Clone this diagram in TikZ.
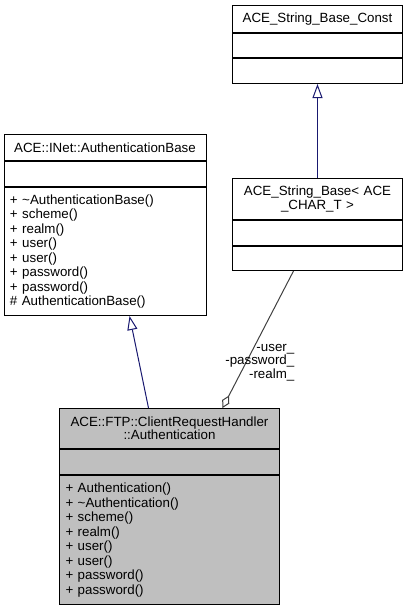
\documentclass[tikz,border=0pt]{standalone}
\usepackage{fontspec}
\setmainfont{Liberation Sans}
\usetikzlibrary{positioning,arrows.meta}
\definecolor{edgeblue}{HTML}{191970}
\definecolor{edgegray}{HTML}{404040}
\definecolor{classgray}{HTML}{BFBFBF}
\tikzset{
  classpart/.style={draw=black, line width=0.75pt, fill=white, inner xsep=4.5pt,
    inner ysep=0pt, text width=#1, align=center, font=\fontsize{10}{10}\selectfont},
  classops/.style={classpart=#1, align=left, font=\fontsize{10}{10.9}\selectfont},
  inherit/.style={edgeblue, line width=0.75pt,
    -{Triangle[open, length=10.5pt, width=7.5pt, fill=white]}},
  aggregate/.style={edgegray, line width=0.75pt,
    {Diamond[open, length=10.5pt, width=6pt, fill=white]}-}
}
\begin{document}
\begin{tikzpicture}[x=0.75pt, y=-0.75pt]
  \useasboundingbox (0,0) rectangle (408,608);

  % ACE_String_Base_Const
  \node[classpart=118.5pt, minimum height=20.25pt, anchor=north west] (strconst) at (232,5) {ACE\_String\_Base\_Const};
  \node[classpart=118.5pt, minimum height=18pt, below=0pt of strconst] (strconstattr) {};
  \node[classpart=118.5pt, minimum height=18.75pt, below=0pt of strconstattr] (strconstops) {};

  % ACE_String_Base< ACE_CHAR_T >
  \node[classpart=118.5pt, minimum height=30.75pt, anchor=north west] (strbase) at (232,178) {ACE\_String\_Base< ACE\\\_CHAR\_T >};
  \node[classpart=118.5pt, minimum height=18.75pt, below=0pt of strbase] (strbaseattr) {};
  \node[classpart=118.5pt, minimum height=18pt, below=0pt of strbaseattr] (strbaseops) {};

  % ACE::INet::AuthenticationBase
  \node[classpart=142.5pt, minimum height=19.5pt, anchor=north west] (authbase) at (3.5,134) {ACE::INet::AuthenticationBase};
  \node[classpart=142.5pt, minimum height=18.75pt, below=0pt of authbase] (authbaseattr) {};
  \node[classops=142.5pt, minimum height=96pt, below=0pt of authbaseattr] (authbaseops) {+ \textasciitilde AuthenticationBase()\\+ scheme()\\+ realm()\\+ user()\\+ user()\\+ password()\\+ password()\\\# AuthenticationBase()};

  % ACE::FTP::ClientRequestHandler::Authentication
  \node[classpart=156pt, fill=classgray, minimum height=30pt, anchor=north west] (auth) at (59,408) {ACE::FTP::ClientRequestHandler\\::Authentication};
  \node[classpart=156pt, fill=classgray, minimum height=18.75pt, below=0pt of auth] (authattr) {};
  \node[classops=156pt, fill=classgray, minimum height=96.75pt, below=0pt of authattr] (authops) {+ Authentication()\\+ \textasciitilde Authentication()\\+ scheme()\\+ realm()\\+ user()\\+ user()\\+ password()\\+ password()};

  % edges
  \draw[inherit] (strbase.north) -- (strconstops.south);
  \draw[inherit] ([xshift=-15.75pt]auth.north) -- ([xshift=18.4pt]authbaseops.south);
  \draw[aggregate] ([xshift=39.75pt]auth.north) -- ([xshift=-18pt]strbaseops.south);
  \node[anchor=east, align=right, font=\fontsize{10}{10.1}\selectfont] (aggrlabel) at (299,362.5) {-user\_\\-password\_\\-realm\_};
\end{tikzpicture}
\end{document}
